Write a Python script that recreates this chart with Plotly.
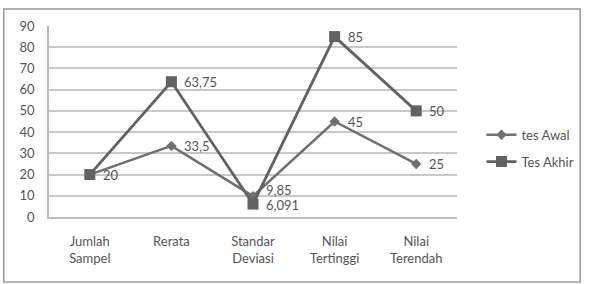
import plotly.graph_objects as go

categories = ["Jumlah<br>Sampel", "Rerata", "Standar<br>Deviasi", "Nilai<br>Tertinggi", "Nilai<br>Terendah"]
tes_awal = [20, 33.5, 9.85, 45, 25]
tes_akhir = [20, 63.75, 6.091, 85, 50]
y_ticks = [0, 10, 20, 30, 40, 50, 60, 70, 80, 90]

font = "Lato, Open Sans, sans-serif"

def fmt(v):
    return f"{v:g}".replace(".", ",")

fig = go.Figure()
fig.add_trace(go.Scatter(
    x=categories, y=tes_awal, name="tes Awal", mode="lines+markers",
    legendgroup="a",
    line=dict(color="#707070", width=2.5),
    marker=dict(symbol="diamond", size=8, color="#707070"),
))
fig.add_trace(go.Scatter(
    x=categories, y=tes_akhir, name="Tes Akhir", mode="lines+markers",
    legendgroup="b",
    line=dict(color="#626262", width=2.8),
    marker=dict(symbol="square", size=11, color="#626262"),
))

annotations = []
for i, c in enumerate(categories):
    a, b = tes_awal[i], tes_akhir[i]
    if a == b:
        annotations.append(dict(x=c, y=b, text=fmt(b), showarrow=False, xanchor="left",
                                xshift=11, font=dict(family=font, size=13, color="#555")))
        continue
    close = abs(a - b) < 6
    for v, other in ((a, b), (b, a)):
        ys = 0
        if close:
            ys = 6 if v > other else -1
        annotations.append(dict(x=c, y=v, text=fmt(v), showarrow=False, xanchor="left",
                                xshift=11, yshift=ys, font=dict(family=font, size=13, color="#555")))

fig.update_layout(
    width=591, height=284,
    margin=dict(l=49, r=128, t=26, b=67),
    paper_bgcolor="white", plot_bgcolor="white",
    font=dict(family=font, size=13, color="#555"),
    showlegend=True,
    annotations=annotations,
    legend=dict(x=1.06, y=0.36, xanchor="left", yanchor="middle",
                font=dict(size=13, color="#555"), traceorder="grouped", tracegroupgap=7,
                itemwidth=30, bgcolor="rgba(0,0,0,0)"),
    xaxis=dict(type="category", range=[-0.5, 4.5], showgrid=False,
               showline=True, linecolor="#bbb", linewidth=1.5,
               ticks="", ticklabelstandoff=12, tickfont=dict(size=13, color="#555")),
    yaxis=dict(range=[0, 90], tickvals=y_ticks, showgrid=True, gridcolor="#c8c8c8",
               gridwidth=1.5, showline=True, linecolor="#bbb", linewidth=1.5,
               zeroline=False, ticks="", ticklabelstandoff=10,
               tickfont=dict(size=13, color="#555")),
    shapes=[dict(type="rect", xref="paper", yref="paper",
                 x0=-0.111, x1=1.302, y0=-0.340, y1=1.089,
                 line=dict(color="#999", width=1.5), fillcolor="rgba(0,0,0,0)", layer="below")],
)
fig.write_html("out.html")
